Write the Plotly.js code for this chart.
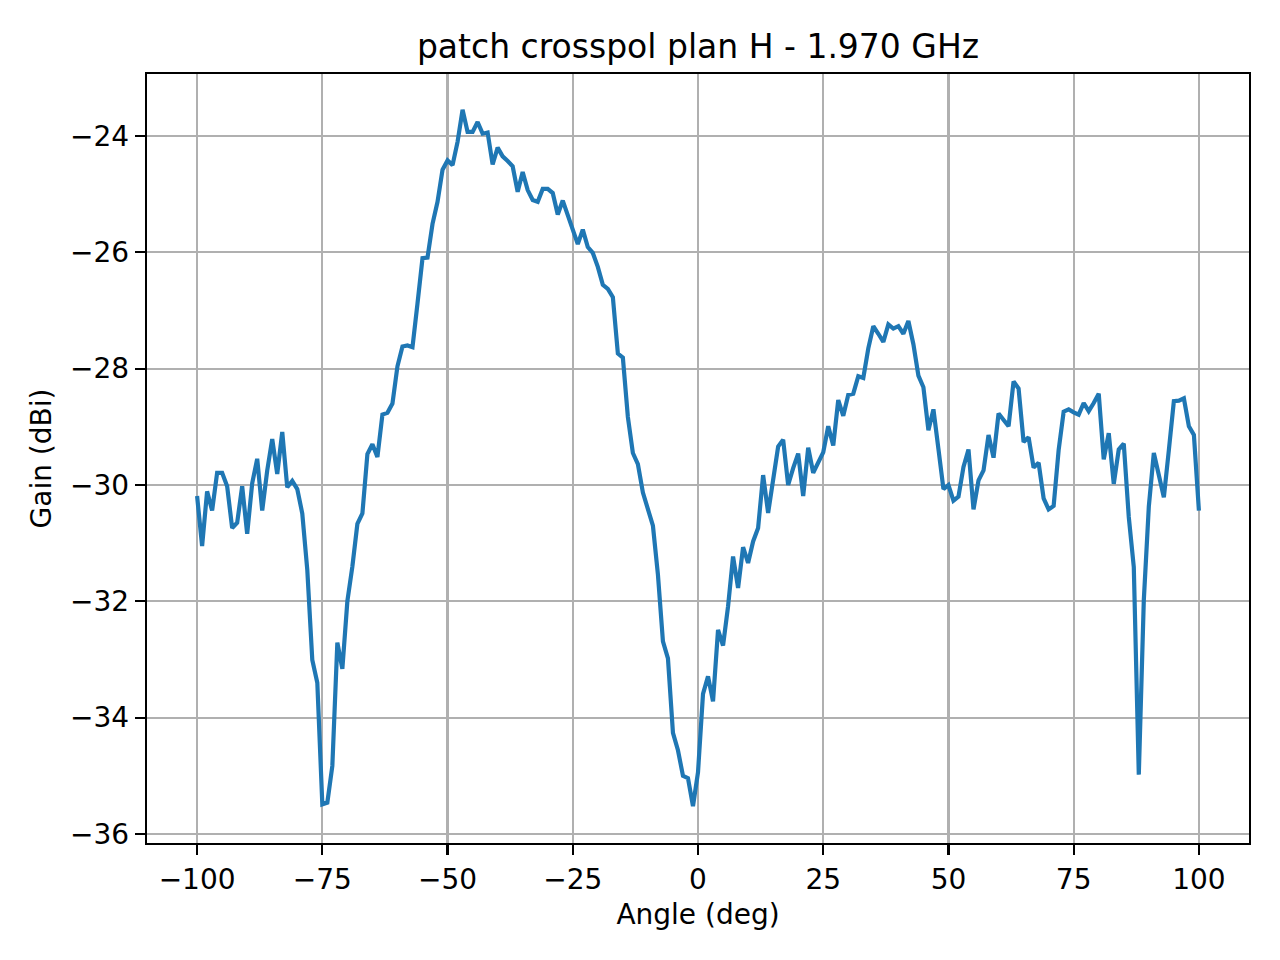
<!DOCTYPE html>
<html>
<head>
<meta charset="utf-8">
<script src="https://cdn.plot.ly/plotly-3.0.1.min.js"></script>
<style>html,body{margin:0;padding:0;background:#fff;}#chart{width:1280px;height:960px;}</style>
</head>
<body>
<div id="chart"></div>
<script>
const chartTitle = "patch crosspol plan H - 1.970 GHz";
const xLabel = "Angle (deg)";
const yLabel = "Gain (dBi)";

const angles = [
  -100,-99,-98,-97,-96,-95,-94,-93,-92,-91,-90,-89,-88,-87,-86,-85,-84,-83,-82,-81,
  -80,-79,-78,-77,-76,-75,-74,-73,-72,-71,-70,-69,-68,-67,-66,-65,-64,-63,-62,-61,
  -60,-59,-58,-57,-56,-55,-54,-53,-52,-51,-50,-49,-48,-47,-46,-45,-44,-43,-42,-41,
  -40,-39,-38,-37,-36,-35,-34,-33,-32,-31,-30,-29,-28,-27,-26,-25,-24,-23,-22,-21,
  -20,-19,-18,-17,-16,-15,-14,-13,-12,-11,-10,-9,-8,-7,-6,-5,-4,-3,-2,-1,
  0,1,2,3,4,5,6,7,8,9,10,11,12,13,14,15,16,17,18,19,
  20,21,22,23,24,25,26,27,28,29,30,31,32,33,34,35,36,37,38,39,
  40,41,42,43,44,45,46,47,48,49,50,51,52,53,54,55,56,57,58,59,
  60,61,62,63,64,65,66,67,68,69,70,71,72,73,74,75,76,77,78,79,
  80,81,82,83,84,85,86,87,88,89,90,91,92,93,94,95,96,97,98,99,
  100
];

const gainDbi = [
  -30.19,-31.05,-30.11,-30.44,-29.79,-29.79,-30.02,-30.74,-30.65,-30.02,
  -30.84,-29.97,-29.55,-30.44,-29.75,-29.21,-29.81,-29.09,-30.04,-29.93,
  -30.07,-30.49,-31.46,-33.01,-33.40,-35.49,-35.46,-34.83,-32.71,-33.16,
  -32.00,-31.40,-30.67,-30.49,-29.47,-29.30,-29.52,-28.79,-28.76,-28.60,
  -27.96,-27.62,-27.60,-27.63,-26.88,-26.10,-26.09,-25.51,-25.13,-24.58,
  -24.42,-24.50,-24.10,-23.55,-23.93,-23.93,-23.76,-23.96,-23.94,-24.49,
  -24.20,-24.35,-24.43,-24.52,-24.96,-24.62,-24.93,-25.10,-25.13,-24.91,
  -24.91,-24.98,-25.35,-25.11,-25.36,-25.63,-25.86,-25.61,-25.91,-26.01,
  -26.25,-26.56,-26.63,-26.77,-27.74,-27.81,-28.83,-29.45,-29.64,-30.13,
  -30.40,-30.70,-31.54,-32.69,-32.98,-34.26,-34.56,-35.00,-35.04,-35.52,
  -34.94,-33.59,-33.29,-33.72,-32.49,-32.76,-32.09,-31.23,-31.77,-31.07,
  -31.34,-30.97,-30.74,-29.83,-30.48,-29.92,-29.34,-29.22,-30.00,-29.71,
  -29.46,-30.19,-29.36,-29.79,-29.63,-29.44,-28.99,-29.32,-28.54,-28.81,
  -28.45,-28.43,-28.13,-28.16,-27.65,-27.27,-27.40,-27.54,-27.24,-27.31,
  -27.27,-27.40,-27.18,-27.58,-28.12,-28.32,-29.06,-28.70,-29.38,-30.07,
  -30.00,-30.27,-30.20,-29.69,-29.39,-30.42,-29.92,-29.75,-29.14,-29.53,
  -28.77,-28.88,-28.99,-28.22,-28.34,-29.26,-29.18,-29.70,-29.62,-30.23,
  -30.42,-30.36,-29.40,-28.74,-28.70,-28.75,-28.79,-28.59,-28.73,-28.59,
  -28.43,-29.56,-29.11,-29.98,-29.39,-29.29,-30.55,-31.41,-34.98,-31.98,
  -30.37,-29.45,-29.86,-30.21,-29.40,-28.56,-28.55,-28.51,-28.99,-29.14,
  -30.44
];

const xTicks = [-100, -75, -50, -25, 0, 25, 50, 75, 100];
const yTicks = [-36, -34, -32, -30, -28, -26, -24];

const FONT = "DejaVu Sans, sans-serif";

const trace = {
  x: angles,
  y: gainDbi,
  type: "scatter",
  mode: "lines",
  line: {color: "#1f77b4", width: 4.2},
  hoverinfo: "skip"
};

const axisCommon = {
  showline: true,
  linecolor: "#000",
  linewidth: 2.2,
  mirror: true,
  ticks: "outside",
  ticklen: 10,
  tickwidth: 2.2,
  tickcolor: "#000",
  showgrid: true,
  gridcolor: "#b0b0b0",
  gridwidth: 2.2,
  zeroline: false,
  tickfont: {family: FONT, size: 28, color: "#000"},
  automargin: false
};

const layout = {
  width: 1280,
  height: 960,
  paper_bgcolor: "#fff",
  plot_bgcolor: "#fff",
  showlegend: false,
  margin: {l: 147, r: 31, t: 74, b: 117, pad: 0},
  font: {family: FONT, color: "#000"},
  title: {
    text: chartTitle,
    font: {family: FONT, size: 33, color: "#000"},
    x: 0.5, xref: "paper", xanchor: "center",
    y: 1 - 46/960, yref: "container", yanchor: "middle"
  },
  xaxis: Object.assign({}, axisCommon, {
    range: [-110, 110],
    tickmode: "array",
    tickvals: xTicks,
    title: {text: xLabel, font: {family: FONT, size: 28, color: "#000"}, standoff: 10}
  }),
  yaxis: Object.assign({}, axisCommon, {
    range: [-36.155, -22.934],
    tickmode: "array",
    tickvals: yTicks,
    title: {text: yLabel, font: {family: FONT, size: 28, color: "#000"}, standoff: 10}
  })
};

Plotly.newPlot("chart", [trace], layout, {staticPlot: true, displayModeBar: false});
</script>
</body>
</html>
